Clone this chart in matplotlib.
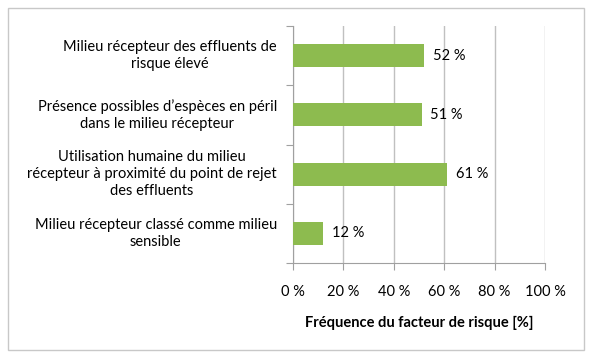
import matplotlib
matplotlib.use("Agg")
import matplotlib.pyplot as plt
import matplotlib.transforms as mtransforms
from matplotlib.patches import Rectangle

categories = [
    "Milieu récepteur des effluents de\nrisque élevé",
    "Présence possibles d’espèces en péril\ndans le milieu récepteur",
    "Utilisation humaine du milieu\nrécepteur à proximité du point de rejet\ndes effluents",
    "Milieu récepteur classé comme milieu\nsensible",
]
values = [52, 51, 61, 12]
xticks = [0, 20, 40, 60, 80, 100]
xlabels = ["0 %", "20 %", "40 %", "60 %", "80 %", "100 %"]

plt.rcParams['font.family'] = ['Lato', 'DejaVu Sans']

W, H = 590, 360
fig = plt.figure(figsize=(W / 100, H / 100), dpi=100)
ax = fig.add_axes([293 / W, 1 - 263 / H, (545 - 293) / W, (263 - 26) / H])

ypos = list(range(len(values)))
ax.barh(ypos, values, height=0.39, color="#8dbb4f", zorder=3)
ax.set_ylim(len(values) - 0.5, -0.5)
ax.set_xlim(0, 100)

ax.set_xticks(xticks)
ax.set_xticklabels(xlabels, fontsize=10.5)
ax.xaxis.grid(True, color="#c0c0c0", linewidth=1, zorder=0)
ax.tick_params(axis='x', length=5, color="#a0a0a0", pad=11)

ax.set_yticks([i + 0.5 for i in range(-1, len(values))])
ax.set_yticklabels([])
ax.tick_params(axis='y', length=5, color="#a0a0a0")

for spine in ["top", "right"]:
    ax.spines[spine].set_visible(False)
ax.spines["left"].set_color("#a0a0a0")
ax.spines["bottom"].set_color("#a0a0a0")

trans = mtransforms.blended_transform_factory(fig.transFigure, ax.transData)
for i, c in enumerate(categories):
    ax.text(277 / W, i, c, transform=trans, fontsize=10.5, ha='right',
            va='center', multialignment='center', color="#000000", linespacing=1.3)

for i, v in enumerate(values):
    ax.text(v + 3.5, i, f"{v} %", fontsize=10.5, ha='left', va='center', color="#000000")

ax.set_xlabel("Fréquence du facteur de risque [%]", fontsize=10.5, fontweight='bold', labelpad=12)

fig.patches.append(Rectangle((8 / W, 1 - 350 / H), (584 - 8) / W, (350 - 8) / H,
                             transform=fig.transFigure, fill=False,
                             edgecolor="#c8c8c8", linewidth=1))

fig.savefig("out.png", dpi=100)
